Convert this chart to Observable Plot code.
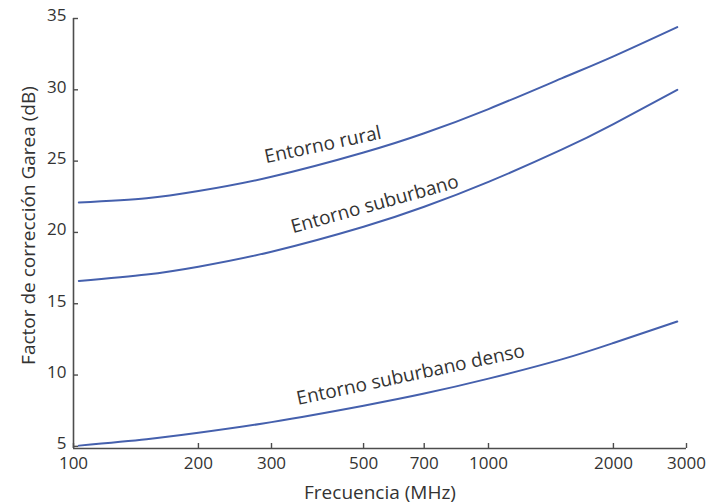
<!DOCTYPE html>
<html><head><meta charset="utf-8">
<script src="https://cdn.jsdelivr.net/npm/d3@7"></script>
<script src="https://cdn.jsdelivr.net/npm/@observablehq/plot@0.6"></script>
<style>body{margin:0;background:#fff} #chart svg{display:block}</style>
</head><body><div id="chart"></div>
<script>
const frequencies = [103, 150, 200, 300, 500, 700, 1000, 1500, 2000, 2850];
const rural      = [22.1, 22.4, 22.9, 23.9, 25.6, 26.95, 28.65, 30.8, 32.35, 34.4];
const suburbano  = [16.6, 17.05, 17.6, 18.65, 20.4, 21.8, 23.55, 25.8, 27.6, 30.0];
const denso      = [5.05, 5.5, 5.95, 6.7, 7.85, 8.7, 9.75, 11.1, 12.25, 13.75];
const seriesNames = ["Entorno rural", "Entorno suburbano", "Entorno suburbano denso"];
const xTicks = [100, 200, 300, 500, 700, 1000, 2000, 3000];
const yTicks = [5, 10, 15, 20, 25, 30, 35];
const labelFreq = [399, 532, 649];
const labelDb = [26.14, 21.97, 10.02];
const labelAngle = [-12, -15.5, -12];
const xTitle = "Frecuencia (MHz)";
const yTitle = "Factor de corrección Garea (dB)";

const seriesValues = [rural, suburbano, denso];
const rows = seriesNames.flatMap((name, i) =>
  frequencies.map((f, j) => ({serie: name, f, db: seriesValues[i][j]})));
const labels = seriesNames.map((name, i) => ({text: name, f: labelFreq[i], db: labelDb[i], angle: labelAngle[i]}));

const axisColor = "#4d4d4d";
const textColor = "#333333";
const lineColor = "#4560ad";

const chart = Plot.plot({
  width: 707, height: 504,
  marginLeft: 73, marginRight: 21, marginTop: 18, marginBottom: 56,
  style: {fontFamily: "'Open Sans', sans-serif", fontSize: "17px", color: textColor, background: "#fff"},
  x: {type: "log", domain: [100, 3000]},
  y: {domain: [4.85, 35]},
  marks: [
    Plot.ruleX([100], {stroke: axisColor, strokeWidth: 1.6}),
    Plot.ruleY([4.85], {stroke: axisColor, strokeWidth: 1.6}),
    Plot.axisX({ticks: xTicks, text: null, tickSize: -5, stroke: axisColor, strokeWidth: 1.4, label: null}),
    Plot.axisX({ticks: xTicks, tickFormat: d => String(d), tickSize: 0, tickPadding: 8, stroke: "none", fill: textColor, label: null}),
    Plot.axisY({ticks: yTicks, text: null, tickSize: -5, stroke: axisColor, strokeWidth: 1.4, label: null}),
    Plot.axisY({ticks: yTicks, tickFormat: d => String(d), tickSize: 0, tickPadding: 7, dy: -2.5, stroke: "none", fill: textColor, label: null}),
    Plot.line(rows, {x: "f", y: "db", z: "serie", stroke: lineColor, strokeWidth: 2, curve: "natural"}),
    Plot.text(labels, {x: "f", y: "db", text: "text", rotate: "angle", fontSize: 19, fill: textColor}),
    Plot.text([xTitle], {text: d => d, frameAnchor: "bottom", textAnchor: "middle", lineAnchor: "middle", dy: 44, fontSize: 19, fill: textColor}),
    Plot.text([yTitle], {text: d => d, frameAnchor: "left", textAnchor: "middle", lineAnchor: "middle", rotate: -90, dx: -45, dy: -8, fontSize: 19, fill: textColor})
  ]
});
document.getElementById("chart").append(chart);
</script>
</body></html>
